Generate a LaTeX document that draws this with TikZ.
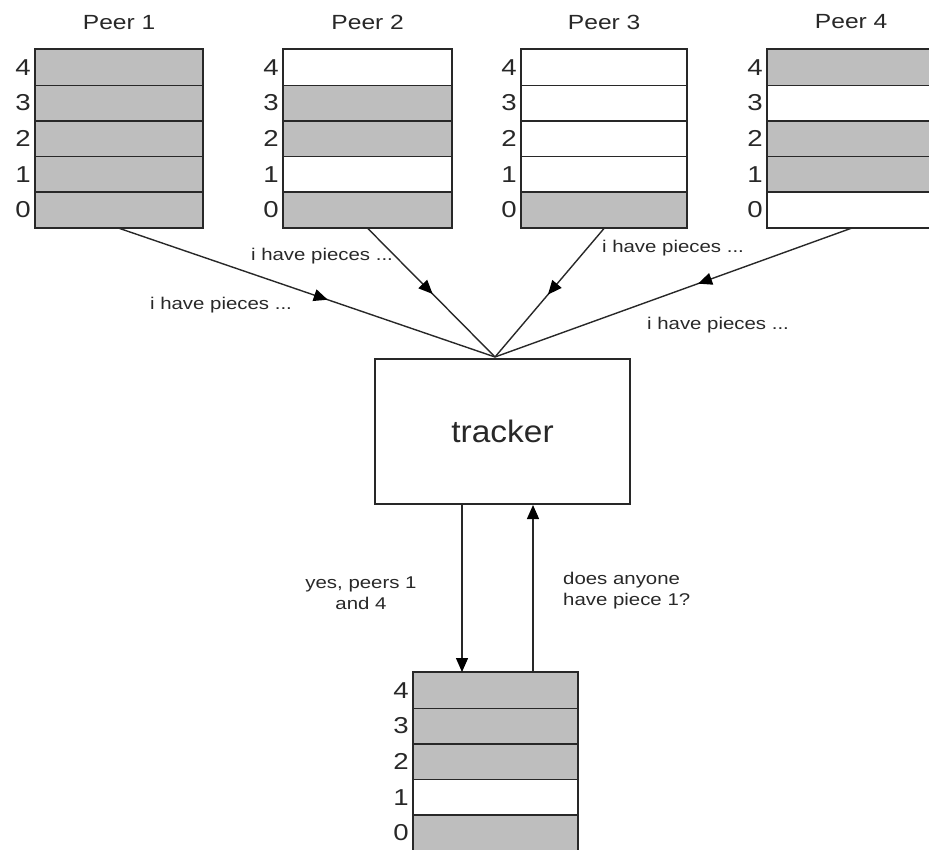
\documentclass[tikz,border=0pt]{standalone}
\usepackage{fontspec}
\setmainfont{Liberation Sans}
\newfontfamily\wfont[FakeStretch=1.2]{Liberation Sans}
\newfontfamily\tfont[FakeStretch=1.08]{Liberation Sans}
\usetikzlibrary{arrows.meta,decorations.markings}
\definecolor{cellgray}{RGB}{190,190,190}
\definecolor{ink}{RGB}{40,40,40}
\newcommand\bitcol[5]{% name, x-left, y-top, fills (4 ... 0), width
  \foreach \f [count=\k from 0] in {#4} {
    \pgfmathtruncatemacro\idx{4-\k}
    \node[cell, fill=\f, minimum width=#5] (#1r\idx) at ({#2}, {#3+\k*35.6}) {};
    \node[digit] (#1d\idx) at ([xshift=-4pt]#1r\idx.west) {\idx};
  }
  \draw[ink, line width=2pt] (#1r4.north west) rectangle (#1r0.south east);
}
\begin{document}
\begin{tikzpicture}[x=1pt,y=-1pt,
  cell/.style={draw=ink, line width=1.3pt, minimum height=35.6pt, inner sep=0pt, anchor=north west},
  digit/.style={anchor=east, inner sep=0pt, text=ink, font=\wfont\fontsize{23}{27}\selectfont},
  peerlab/.style={inner sep=0pt, text=ink, font=\wfont\fontsize{20.5}{24}\selectfont},
  lab/.style={inner sep=0pt, text=ink, font=\wfont\fontsize{17}{21}\selectfont},
  link/.style={draw=ink, line width=1.4pt},
  mid/.style={postaction={decorate}, decoration={markings,
      mark=at position #1 with {\arrow[black]{Triangle[length=14pt,width=12pt]}}}},
  vert/.style={draw=ink, line width=1.4pt, -{Triangle[length=14pt,width=12pt,black]}}
]
\useasboundingbox (0,0) rectangle (929,849);

\bitcol{p1}{35}{49}{cellgray,cellgray,cellgray,cellgray,cellgray}{167}
\bitcol{p2}{283}{49}{white,cellgray,cellgray,white,cellgray}{168}
\bitcol{p3}{521}{49}{white,white,white,white,cellgray}{165}
\bitcol{p4}{767}{49}{cellgray,white,cellgray,cellgray,white}{167}

\node[peerlab] (t1) at ([yshift=26pt]p1r4.north) {Peer 1};
\node[peerlab] (t2) at ([yshift=27pt]p2r4.north) {Peer 2};
\node[peerlab] (t3) at ([yshift=27pt]p3r4.north) {Peer 3};
\node[peerlab] (t4) at ([yshift=27pt]p4r4.north) {Peer 4};

\node[draw=ink, line width=2pt, minimum width=255pt, minimum height=145pt,
      inner sep=0pt, anchor=north west, font=\tfont\fontsize{31}{36}\selectfont, text=ink]
      (tracker) at (374,358) {\raisebox{-2.5pt}{tracker}};
\coordinate (hub) at (495,357);

\draw[link, mid=0.555] (p1r0.south) -- (hub);
\draw[link, mid=0.51] (p2r0.south) -- (hub);
\draw[link, mid=0.515] (p3r0.south) -- (hub);
\draw[link, mid=0.43] (p4r0.south) -- (hub);

\node[lab] (l1) at (221,305) {i have pieces ...};
\node[lab] (l2) at (322,256) {i have pieces ...};
\node[lab] (l3) at (673,248) {i have pieces ...};
\node[lab] (l4) at (718,325) {i have pieces ...};

\bitcol{b}{413}{672}{cellgray,cellgray,cellgray,white,cellgray}{164}

\draw[vert] ([xshift=-40.5pt]tracker.south) -- ([xshift=-40.5pt]tracker.south |- br4.north);
\draw[vert] ([xshift=30.5pt]tracker.south |- br4.north) -- ([xshift=30.5pt]tracker.south);

\node[lab, align=center] (ans) at (361,593) {yes, peers 1\\and 4};
\node[lab, align=left, anchor=west] (ask) at (563,591) {does anyone\\have piece 1?};
\end{tikzpicture}
\end{document}
